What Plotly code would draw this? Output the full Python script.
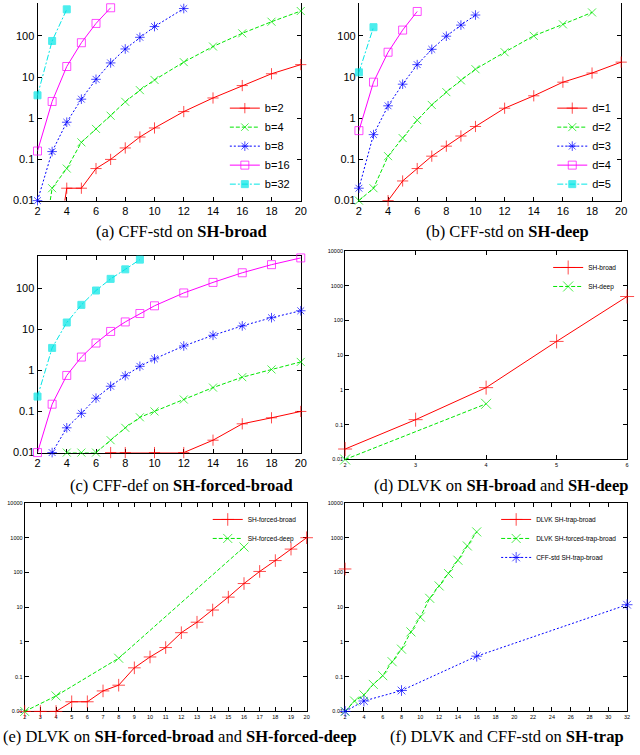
import plotly.graph_objects as go

# Couleurs gnuplot
RED = "#ff0000"
GREEN = "#00e600"
BLUE = "#0000ff"
MAGENTA = "#ff00ff"
CYAN = "#00e6e6"

# (a) CFF-std on SH-broad
a_b2_x = [3, 4, 5, 6, 7, 8, 9, 10, 12, 14, 16, 18, 20]
a_b2_y = [0.0001, 0.02, 0.02, 0.06, 0.1, 0.19, 0.35, 0.58, 1.45, 3.1, 6.2, 12, 20]
a_b4_x = [2, 3, 4, 5, 6, 7, 8, 9, 10, 12, 14, 16, 18, 20]
a_b4_y = [0.0001, 0.02, 0.06, 0.26, 0.55, 1.15, 2.5, 4.8, 8.5, 23, 55, 115, 220, 400]
a_b8_x = [2, 3, 4, 5, 6, 7, 8, 9, 10, 12]
a_b8_y = [0.01, 0.155, 0.8, 2.9, 8.8, 22, 48, 92, 168, 460]
a_b16_x = [2, 3, 4, 5, 6, 7]
a_b16_y = [0.16, 2.55, 18, 68, 200, 480]
a_b32_x = [2, 3, 4]
a_b32_y = [3.6, 75, 440]

# (b) CFF-std on SH-deep
b_d1_x = [4, 5, 6, 7, 8, 9, 10, 12, 14, 16, 18, 20]
b_d1_y = [0.01, 0.03, 0.06, 0.12, 0.21, 0.37, 0.63, 1.75, 3.5, 7.5, 12.5, 23]
b_d2_x = [2, 3, 4, 5, 6, 7, 8, 9, 10, 12, 14, 16, 18]
b_d2_y = [0.01, 0.02, 0.12, 0.33, 0.9, 2.1, 4.3, 8.3, 15.5, 40, 100, 190, 370]
b_d3_x = [2, 3, 4, 5, 6, 7, 8, 9, 10]
b_d3_y = [0.02, 0.4, 2.0, 6.7, 20, 47, 98, 182, 320]
b_d4_x = [2, 3, 4, 5, 6]
b_d4_y = [0.5, 7.5, 40, 138, 390]
b_d5_x = [2, 3]
b_d5_y = [13, 162]

# (c) CFF-def on SH-forced-broad
c_b2_x = [7, 8, 10, 12, 14, 16, 18, 20]
c_b2_y = [0.01, 0.01, 0.01, 0.01, 0.02, 0.05, 0.07, 0.1]
c_b4_x = [4, 5, 6, 7, 8, 9, 10, 12, 14, 16, 18, 20]
c_b4_y = [0.01, 0.01, 0.01, 0.02, 0.04, 0.072, 0.1, 0.195, 0.38, 0.68, 1.05, 1.6]
c_b8_x = [3, 4, 5, 6, 7, 8, 9, 10, 12, 14, 16, 18, 20]
c_b8_y = [0.01, 0.04, 0.09, 0.21, 0.41, 0.74, 1.25, 1.9, 3.9, 7.1, 12, 19, 28]
c_b16_x = [2, 3, 4, 5, 6, 7, 8, 9, 10, 12, 14, 16, 18, 20]
c_b16_y = [0.01, 0.15, 0.75, 2.1, 4.6, 8.8, 15, 24, 37, 76, 137, 235, 370, 540]
c_b32_x = [2, 3, 4, 5, 6, 7, 8, 9]
c_b32_y = [0.23, 3.5, 14.5, 39, 87, 167, 285, 490]

# (d) DLVK on SH-broad and SH-deep
d_broad_x = [2, 3, 4, 5, 6]
d_broad_y = [0.02, 0.14, 1.17, 25, 490]
d_deep_x = [2, 4]
d_deep_y = [0.01, 0.4]

# (e) DLVK on SH-forced-broad and SH-forced-deep
e_broad_x = list(range(2, 21))
e_broad_y = [0.01, 0.01, 0.01, 0.019, 0.019, 0.039, 0.057, 0.18, 0.37, 0.69,
             1.85, 3.7, 8.3, 19.5, 48, 107, 220, 470, 1000]
e_deep_x = [2, 4, 8, 16]
e_deep_y = [0.01, 0.028, 0.34, 540]

# (f) DLVK and CFF-std on SH-trap
f_trap_x = [2]
f_trap_y = [126]
f_forced_x = list(range(2, 17))
f_forced_y = [0.01, 0.02, 0.03, 0.06, 0.107, 0.27, 0.62, 1.95, 5.2, 18, 41, 93, 225, 580, 1470]
f_cff_x = [2, 4, 8, 16, 32]
f_cff_y = [0.01, 0.02, 0.04, 0.39, 11.8]

W, H = 640, 755

# styles : (couleur, dash, symbole)
S_RED = (RED, "solid", "cross-thin-open")
S_GREEN = (GREEN, "4px,2px", "x-thin-open")
S_BLUE = (BLUE, "2px,2px", "asterisk-open")
S_MAG = (MAGENTA, "solid", "square-open")
S_CYAN = (CYAN, "6px,2px,2px,2px", "square")

fig = go.Figure()


def add(x, y, name, style, n, legend=None, msize=8):
    color, dash, symbol = style
    sizes = [0 if v < 0.01 else (msize - 1 if symbol == "square" else msize) for v in y]
    fig.add_trace(go.Scatter(
        x=x, y=y, name=name, mode="lines+markers",
        xaxis="x" + (str(n) if n > 1 else ""), yaxis="y" + (str(n) if n > 1 else ""),
        line=dict(color=color, width=1, dash=dash),
        marker=dict(symbol=symbol, size=sizes, color=color, line=dict(color=color, width=1)),
        cliponaxis=False,
        showlegend=legend is not None,
        legend=legend if legend else "legend",
    ))


add(a_b2_x, a_b2_y, "b=2", S_RED, 1, "legend")
add(a_b4_x, a_b4_y, "b=4", S_GREEN, 1, "legend")
add(a_b8_x, a_b8_y, "b=8", S_BLUE, 1, "legend")
add(a_b16_x, a_b16_y, "b=16", S_MAG, 1, "legend")
add(a_b32_x, a_b32_y, "b=32", S_CYAN, 1, "legend")

add(b_d1_x, b_d1_y, "d=1", S_RED, 2, "legend2")
add(b_d2_x, b_d2_y, "d=2", S_GREEN, 2, "legend2")
add(b_d3_x, b_d3_y, "d=3", S_BLUE, 2, "legend2")
add(b_d4_x, b_d4_y, "d=4", S_MAG, 2, "legend2")
add(b_d5_x, b_d5_y, "d=5", S_CYAN, 2, "legend2")

add(c_b2_x, c_b2_y, "b=2", S_RED, 3)
add(c_b4_x, c_b4_y, "b=4", S_GREEN, 3)
add(c_b8_x, c_b8_y, "b=8", S_BLUE, 3)
add(c_b16_x, c_b16_y, "b=16", S_MAG, 3)
add(c_b32_x, c_b32_y, "b=32", S_CYAN, 3)

add(d_broad_x, d_broad_y, "SH-broad", S_RED, 4, "legend3", 10)
add(d_deep_x, d_deep_y, "SH-deep", S_GREEN, 4, "legend3", 10)

add(e_broad_x, e_broad_y, "SH-forced-broad", S_RED, 5, "legend4", 9)
add(e_deep_x, e_deep_y, "SH-forced-deep", S_GREEN, 5, "legend4", 9)

add(f_trap_x, f_trap_y, "DLVK SH-trap-broad", S_RED, 6, "legend5", 9)
add(f_forced_x, f_forced_y, "DLVK SH-forced-trap-broad", S_GREEN, 6, "legend5", 9)
add(f_cff_x, f_cff_y, "CFF-std SH-trap-broad", S_BLUE, 6, "legend5", 9)


def px(a, b):
    return [a / W, b / W]


def py(top, bottom):
    return [1 - bottom / H, 1 - top / H]


def xax(dom, anchor, rng, ticks, size, mirror="ticks"):
    return dict(domain=dom, anchor=anchor, range=rng, tickvals=ticks,
                ticks="inside", ticklen=4, tickcolor="black", showline=True,
                linecolor="black", linewidth=1, mirror=mirror, showgrid=False,
                zeroline=False, layer="below traces",
                tickfont=dict(family="Liberation Sans", size=size, color="black"))


def yax(dom, anchor, top, vals, size):
    return dict(domain=dom, anchor=anchor, type="log", range=[-2, top],
                tickvals=vals, ticktext=[("%g" % v) for v in vals],
                ticks="inside", ticklen=4, tickcolor="black", showline=True,
                linecolor="black", linewidth=1, mirror="ticks", showgrid=False,
                zeroline=False, layer="below traces",
                tickfont=dict(family="Liberation Sans", size=size, color="black"))


small_vals = [0.01, 0.1, 1, 10, 100]
big_vals = [0.01, 0.1, 1, 10, 100, 1000, 10000]
even = list(range(2, 21, 2))


def leg(x, y, yanchor, size):
    return dict(x=x, y=y, xanchor="right", yanchor=yanchor, bgcolor="rgba(0,0,0,0)",
                font=dict(family="Liberation Sans", size=size, color="black"),
                itemwidth=30, tracegroupgap=0)


captions = [
    ("(a) CFF-std on <b>SH-broad</b>", 181, 231),
    ("(b) CFF-std on <b>SH-deep</b>", 512, 231),
    ("(c) CFF-def on <b>SH-forced-broad</b>", 181, 488),
    ("(d) DLVK on <b>SH-broad</b> and <b>SH-deep</b>", 505, 488),
    ("(e) DLVK on <b>SH-forced-broad</b> and <b>SH-forced-deep</b>", 180, 742),
    ("(f) DLVK and CFF-std on <b>SH-trap</b>", 511, 742),
]

fig.update_layout(
    width=W, height=H,
    margin=dict(l=0, r=0, t=0, b=0),
    paper_bgcolor="white", plot_bgcolor="white",
    xaxis=xax(px(35, 302), "y", [2, 20], even, 11, mirror=False),
    yaxis=yax(py(0, 200), "x", 2.797, small_vals, 11),
    xaxis2=xax(px(361, 627), "y2", [2, 20], even, 11, mirror=False),
    yaxis2=yax(py(0, 200), "x2", 2.797, small_vals, 11),
    xaxis3=xax(px(35, 302), "y3", [2, 20], even, 11),
    yaxis3=yax(py(256, 455), "x3", 2.78, small_vals, 11),
    xaxis4=xax(px(347, 633), "y4", [2, 6], [2, 3, 4, 5, 6], 5.5),
    yaxis4=yax(py(251, 462), "x4", 4, big_vals, 5.5),
    xaxis5=xax(px(22, 308), "y5", [2, 20], list(range(2, 21)), 5.5),
    yaxis5=yax(py(506, 717), "x5", 4, big_vals, 5.5),
    xaxis6=xax(px(347, 633), "y6", [2, 32], list(range(2, 33, 2)), 5.5),
    yaxis6=yax(py(506, 717), "x6", 4, big_vals, 5.5),
    legend=leg(296 / W, 1 - 198 / H, "bottom", 11),
    legend2=leg(622 / W, 1 - 198 / H, "bottom", 11),
    legend3=leg(628 / W, 1 - 253 / H, "top", 6.5),
    legend4=leg(303 / W, 1 - 508 / H, "top", 6.5),
    legend5=leg(628 / W, 1 - 508 / H, "top", 6.5),
    annotations=[dict(text=t, x=cx / W, y=1 - cy / H, xref="paper", yref="paper",
                      showarrow=False, xanchor="center", yanchor="middle",
                      font=dict(family="Liberation Serif", size=16.5, color="black"))
                 for t, cx, cy in captions],
)

# page sans marge pour que la figure tienne dans la fenêtre
fig.write_html("out.html", config={"displayModeBar": False},
               post_script="document.body.style.margin='0';"
               "document.body.style.overflow='hidden';")
